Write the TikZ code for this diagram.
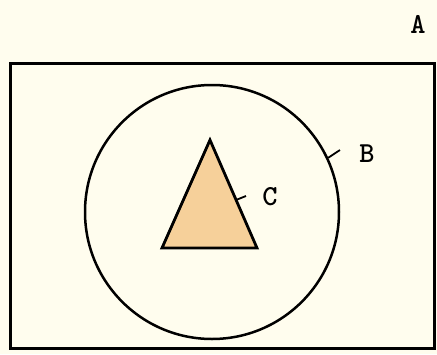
\documentclass[tikz,border=0pt]{standalone}
\usepackage{fontspec}
\usepackage{tikz}
\usetikzlibrary{positioning}
\definecolor{paper}{RGB}{255,253,238}
\definecolor{tan}{RGB}{246,208,154}

\begin{document}
\begin{tikzpicture}[
    x=1pt, y=-1pt,
    setA/.style={draw=black, line width=3pt},
    setB/.style={circle, draw=black, line width=2.5pt, minimum size=254pt, inner sep=0pt},
    setC/.style={draw=black, line width=2.8pt, line join=miter, fill=tan},
    tick/.style={draw=black, line width=1.8pt},
    lbl/.style={font=\ttfamily\bfseries\fontsize{29}{31}\selectfont, inner sep=0pt}
]
\fill[paper] (0,0) rectangle (437,354);
\useasboundingbox (0,0) rectangle (437,354);

\coordinate (Anw) at (10,63);
\coordinate (Ase) at (434,348);
\draw[setA] (Anw) rectangle (Ase);
\node[lbl] (labA) at (418,24) {A};

\node[setB] (B) at (212,212) {};
\coordinate (Btip) at (340,150);
\draw[tick] (B.25) -- (Btip);
\node[lbl] (labB) at (367,154) {B};

\coordinate (Ctop) at (210,140);
\coordinate (Cleft) at (162,248);
\coordinate (Cright) at (257,248);
\draw[setC] (Ctop) -- (Cleft) -- (Cright) -- cycle;
\coordinate (Cfoot) at (236,200);
\coordinate (Ctip) at (246,196);
\draw[tick] (Cfoot) -- (Ctip);
\node[lbl] (labC) at (270,197) {C};
\end{tikzpicture}
\end{document}
